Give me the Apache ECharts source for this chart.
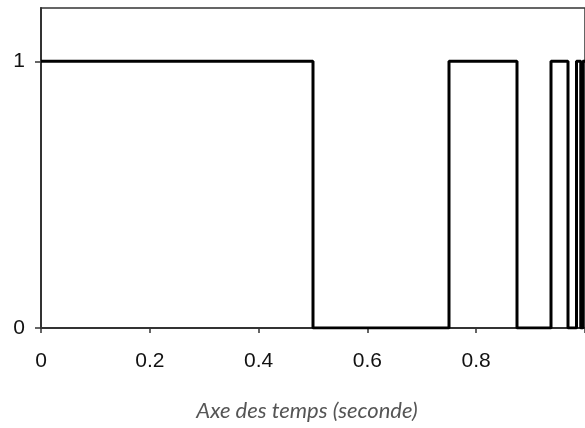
<!DOCTYPE html>
<html>
<head>
<meta charset="utf-8">
<script src="https://cdn.jsdelivr.net/npm/echarts@6/dist/echarts.min.js"></script>
<style>
  html, body { margin: 0; padding: 0; background: #fff; }
  #chart { width: 585px; height: 428px; }
</style>
</head>
<body>
<div id="chart"></div>
<script>
// Switching instants (s) and the level held from each instant on
const switchTimes = [0, 0.5, 0.75, 0.875, 0.9375, 0.96875, 0.984375, 0.9921875, 0.99609375, 1];
const levels = [1, 0, 1, 0, 1, 0, 1, 0, 1, 1];
const xTicks = [0, 0.2, 0.4, 0.6, 0.8, 1];
const xLabels = [0, 0.2, 0.4, 0.6, 0.8];
const yTicks = [0, 1];

const chart = echarts.init(document.getElementById('chart'));

const option = {
  animation: false,
  grid: {
    left: 41,
    top: 8,
    width: 548,
    bottom: 100,
    show: true,
    borderColor: '#333',
    borderWidth: 1.5
  },
  xAxis: {
    type: 'value',
    min: 0,
    max: 1,
    interval: 0.2,
    name: 'Axe des temps (seconde)',
    nameLocation: 'middle',
    nameGap: 72,
    nameTextStyle: {
      fontFamily: 'Lato',
      fontStyle: 'italic',
      fontSize: 22,
      color: '#555',
      padding: [0, 12, 0, 0]
    },
    axisLine: { lineStyle: { color: '#333', width: 2 } },
    axisTick: { show: true, length: 5, lineStyle: { color: '#333', width: 1.5 }, customValues: xTicks },
    axisLabel: {
      margin: 23,
      hideOverlap: false,
      fontFamily: 'Liberation Sans',
      fontSize: 21,
      color: '#111',
      customValues: xLabels
    },
    splitLine: { show: false }
  },
  yAxis: {
    type: 'value',
    min: 0,
    max: 1.2,
    axisLine: { show: true, lineStyle: { color: '#333', width: 2 } },
    axisTick: { show: true, length: 6, lineStyle: { color: '#333', width: 1.5 }, customValues: yTicks },
    axisLabel: {
      margin: 16,
      fontFamily: 'Liberation Sans',
      fontSize: 21,
      color: '#111',
      customValues: yTicks
    },
    splitLine: { show: false }
  },
  series: [
    {
      type: 'line',
      step: 'end',
      symbol: 'none',
      data: switchTimes.map((t, i) => [t, levels[i]]),
      lineStyle: { color: '#000', width: 3 }
    }
  ]
};

chart.setOption(option);
</script>
</body>
</html>
